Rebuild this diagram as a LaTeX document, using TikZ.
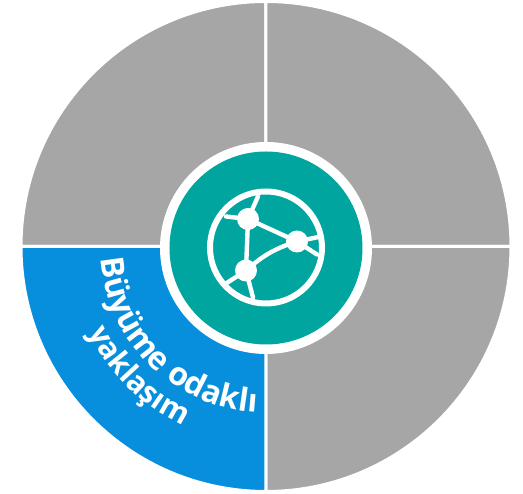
\documentclass[tikz,border=0pt]{standalone}
\usepackage{fontspec}
\setmainfont{Open Sans}
\usetikzlibrary{decorations.text}
\definecolor{sectorgray}{HTML}{A6A6A6}
\definecolor{sectorblue}{HTML}{078EDC}
\definecolor{hubteal}{HTML}{00A59F}
\tikzset{
  x=1pt,y=1pt,
  sector/.style={fill=#1,draw=white,line width=3pt},
  iconline/.style={draw=white,line width=4.4pt,line cap=round},
  icondot/.style={circle,fill=white,minimum size=22pt,inner sep=0pt},
  curvedlabel/.style={decorate,decoration={text along path,text align=center,text={#1}}}
}
\begin{document}
\begin{tikzpicture}
\useasboundingbox (-266,-247.5) rectangle (257,246.5);
% quadrants
\path[sector=sectorgray] (0,0) -- (0,245) arc[start angle=90,end angle=180,radius=245] -- cycle;
\path[sector=sectorgray] (0,0) -- (245,0) arc[start angle=0,end angle=90,radius=245] -- cycle;
\path[sector=sectorgray] (0,0) -- (0,-245) arc[start angle=270,end angle=360,radius=245] -- cycle;
\path[sector=sectorblue] (0,0) -- (-245,0) arc[start angle=180,end angle=270,radius=245] -- cycle;
\draw[white,line width=2pt] (-245,0) -- (-190,0);
% curved label
\path[curvedlabel={|\fontsize{32}{32}\selectfont\bfseries\color{white}|Büyüme odaklı}]
  (180:166) arc[start angle=180,end angle=271,radius=166];
\path[curvedlabel={|\fontsize{30}{30}\selectfont\bfseries\color{white}|yaklaşım}]
  (204:197) arc[start angle=204,end angle=247,radius=197];
% hub
\fill[white] (0,-1.5) circle[radius=106];
\fill[hubteal] (0,-1.5) circle[radius=96.5];
% icon
\draw[white,line width=6pt] (0,-1) circle[radius=56];
\node[icondot] (a) at (-18,27.5) {};
\node[icondot] (b) at (31,5) {};
\node[icondot] (c) at (-20,-24) {};
\coordinate (t1) at (-8,50);
\coordinate (t2) at (-40,30);
\coordinate (r1) at (55,10);
\coordinate (r2) at (51,-8);
\coordinate (l1) at (-40,-37);
\coordinate (l2) at (-13,-51);
\draw[iconline] (a.center) -- (b.center);
\draw[iconline] (a.center) -- (c.center);
\draw[iconline] (c.center) to[bend left=12] (b.center);
\draw[iconline] (a.center) -- (t1);
\draw[iconline] (a.center) -- (t2);
\draw[iconline] (b.center) -- (r1);
\draw[iconline] (b.center) -- (r2);
\draw[iconline] (c.center) -- (l1);
\draw[iconline] (c.center) -- (l2);
\end{tikzpicture}
\end{document}
